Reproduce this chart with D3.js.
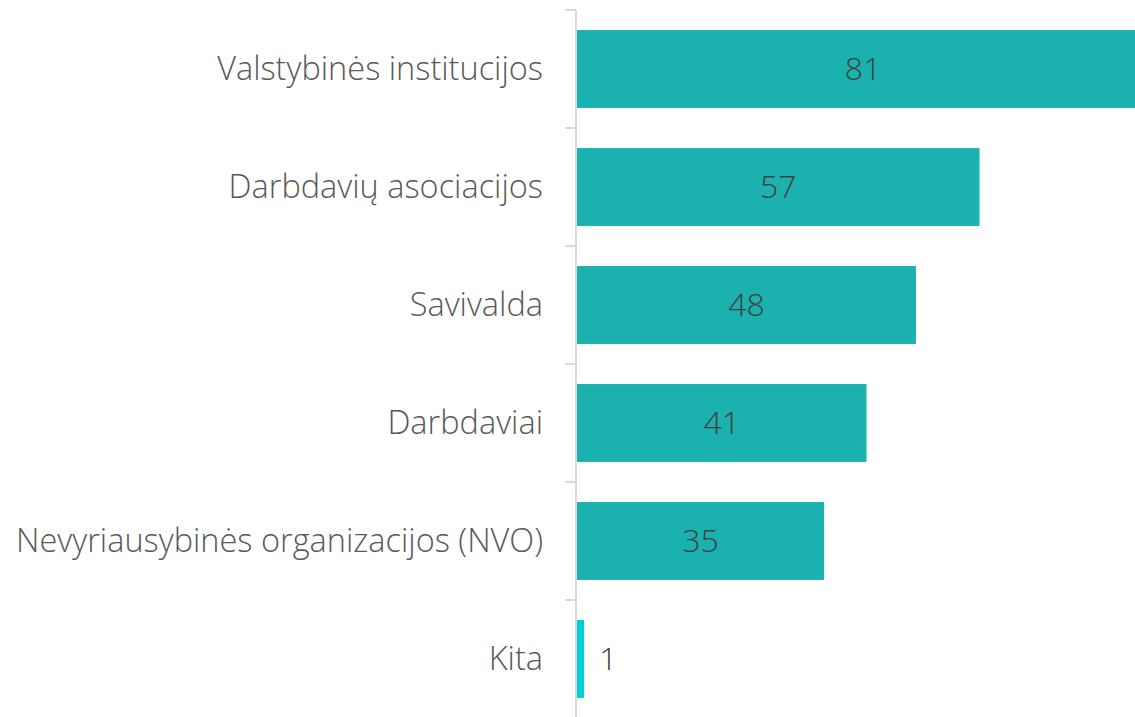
<!DOCTYPE html>
<html lang="lt">
<head>
    <meta charset="UTF-8">
    <title>Bar chart</title>
    <script src="https://d3js.org/d3.v7.min.js"></script>
    <style>
        body {
            margin: 0;
            background-color: white;
        }
        .cat-label {
            font-family: "Segoe UI", "Open Sans", sans-serif;
            font-weight: 300;
            font-size: 32.5px;
            fill: #595959;
        }
        .val-label {
            font-family: "Segoe UI", "Open Sans", sans-serif;
            font-weight: 300;
            font-size: 32px;
            fill: #404040;
        }
    </style>
</head>
<body>
<script>
    const width = 1135;
    const height = 717;

    const categories = [
        "Valstybinės institucijos",
        "Darbdavių asociacijos",
        "Savivalda",
        "Darbdaviai",
        "Nevyriausybinės organizacijos (NVO)",
        "Kita"
    ];
    const values = [81, 57, 48, 41, 35, 1];
    const colors = ["#1bb1ae", "#1bb1ae", "#1bb1ae", "#1bb1ae", "#1bb1ae", "#00ced4"];

    const data = categories.map((c, i) => ({ cat: c, val: values[i], color: colors[i] }));

    const svg = d3.select("body")
        .append("svg")
        .attr("width", width)
        .attr("height", height);

    const axisX = 576;

    const x = d3.scaleLinear()
        .domain([0, 81])
        .range([577, 1149]);

    const y = d3.scaleBand()
        .domain(categories)
        .range([10, 718])
        .paddingInner(0.34)
        .paddingOuter(0.17);

    // bars
    svg.selectAll(".bar")
        .data(data)
        .enter().append("rect")
        .attr("class", "bar")
        .attr("x", x(0))
        .attr("y", d => y(d.cat))
        .attr("width", d => x(d.val) - x(0))
        .attr("height", y.bandwidth())
        .attr("fill", d => d.color);

    // axis line + ticks between categories
    svg.append("line")
        .attr("x1", axisX).attr("x2", axisX)
        .attr("y1", 10).attr("y2", height)
        .attr("stroke", "#d9d9d9")
        .attr("stroke-width", 2);

    const tickYs = categories.map(c => y(c) - y.step() * y.paddingInner() / 2);
    svg.selectAll(".tick")
        .data(tickYs)
        .enter().append("line")
        .attr("class", "tick")
        .attr("x1", 565).attr("x2", axisX)
        .attr("y1", d => d).attr("y2", d => d)
        .attr("stroke", "#d9d9d9")
        .attr("stroke-width", 2);

    // category labels
    svg.selectAll(".cat-label")
        .data(data)
        .enter().append("text")
        .attr("class", "cat-label")
        .attr("x", 543)
        .attr("y", d => y(d.cat) + y.bandwidth() / 2)
        .attr("dy", "0.35em")
        .attr("text-anchor", "end")
        .text(d => d.cat);

    // value labels: inside centered, or outside when bar is tiny
    svg.selectAll(".val-label")
        .data(data)
        .enter().append("text")
        .attr("class", "val-label")
        .attr("x", d => d.val < 5 ? x(d.val) + 15 : (x(0) + x(d.val)) / 2)
        .attr("y", d => y(d.cat) + y.bandwidth() / 2)
        .attr("dy", "0.35em")
        .attr("text-anchor", d => d.val < 5 ? "start" : "middle")
        .text(d => d.val);
</script>
</body>
</html>
